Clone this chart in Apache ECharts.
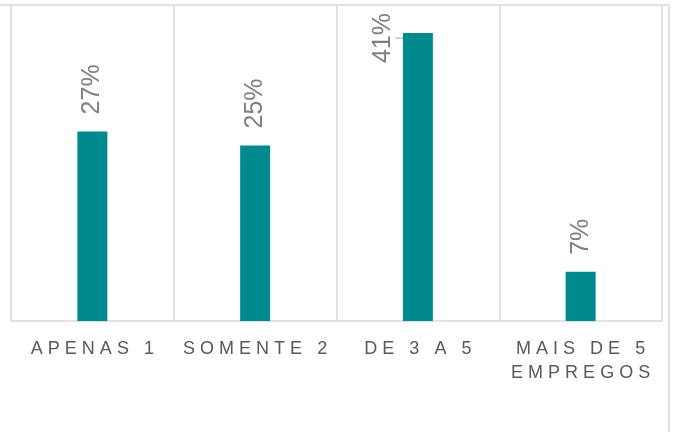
<!DOCTYPE html>
<html>
<head>
<meta charset="utf-8">
<script src="https://cdn.jsdelivr.net/npm/echarts@6/dist/echarts.min.js"></script>
<style>
html,body{margin:0;padding:0;background:#fff;}
#chart{width:674px;height:432px;}
</style>
</head>
<body>
<div id="chart"></div>
<script>
// categorias e valores (%)
var categorias = ['APENAS 1', 'SOMENTE 2', 'DE 3 A 5', 'MAIS DE 5\nEMPREGOS'];
var valores = [27, 25, 41, 7];

// letter spacing fake: espaço entre letras, 3 espaços entre palavras
function espacar(s) {
    return s.split('\n').map(function (linha) {
        return linha.split(' ').map(function (p) {
            return p.split('').join(' ');
        }).join('   ');
    }).join('\n');
}

var dados = valores.map(function (v, i) {
    var item = { value: v };
    if (i == 2) {
        // offset fica no sistema girado do texto
        item.label = { offset: [-47, -35] };
        item.labelLine = { show: true, lineStyle: { color: '#a6a6a6', width: 1 } };
    }
    return item;
});

var chart = echarts.init(document.getElementById('chart'));
var option = {
    animation: false,
    textStyle: { fontFamily: 'Liberation Sans, Arial, sans-serif' },
    grid: { left: 11, right: 12, top: 5, bottom: 111 },
    xAxis: {
        type: 'category',
        data: categorias,
        axisLine: { lineStyle: { color: '#d9d9d9', width: 1.5 } },
        axisTick: { show: false },
        splitLine: { show: true, lineStyle: { color: '#d9d9d9', width: 1.5 } },
        axisLabel: {
            color: '#595959',
            fontSize: 18,
            lineHeight: 24,
            margin: 16,
            interval: 0,
            formatter: function (v) { return espacar(v); }
        }
    },
    yAxis: {
        type: 'value',
        min: 0,
        max: 45,
        show: false
    },
    series: [{
        type: 'bar',
        data: dados,
        barWidth: 30,
        itemStyle: { color: '#008a8e' },
        label: {
            show: true,
            position: 'top',
            rotate: 90,
            align: 'left',
            verticalAlign: 'middle',
            distance: 17,
            color: '#808080',
            fontSize: 25,
            formatter: '{c}%'
        }
    }],
    graphic: [
        { type: 'line', shape: { x1: 0, y1: 5, x2: 669, y2: 5 }, style: { stroke: '#d9d9d9', lineWidth: 1.5 } },
        { type: 'line', shape: { x1: 669, y1: 5, x2: 669, y2: 432 }, style: { stroke: '#d9d9d9', lineWidth: 1.5 } }
    ]
};
chart.setOption(option);
</script>
</body>
</html>
